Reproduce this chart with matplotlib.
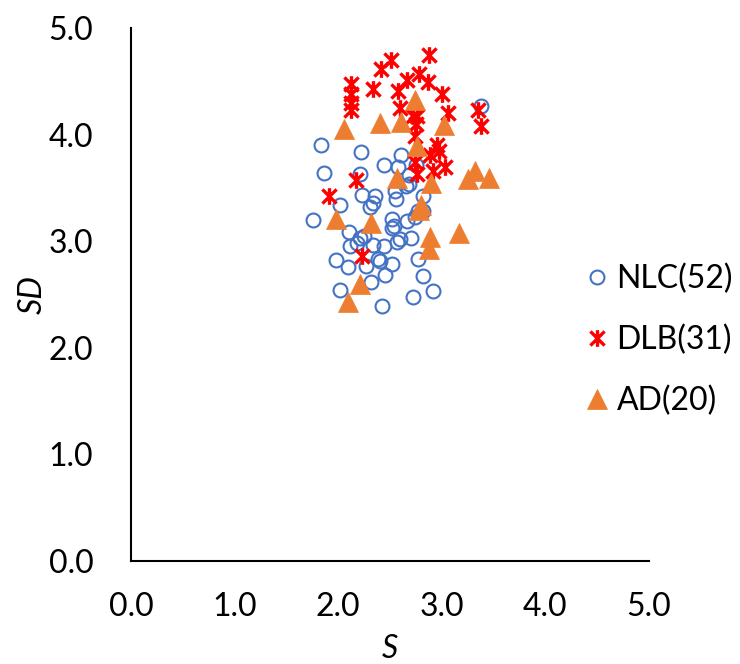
import matplotlib
matplotlib.use("Agg")
import matplotlib.pyplot as plt
from matplotlib.path import Path

plt.rcParams['font.family'] = ['Lato', 'DejaVu Sans']

# NLC group
nlc_s = [1.83, 1.86, 1.76, 2.02, 2.22, 2.21, 2.23, 2.36, 2.34, 2.31,
         2.44, 2.61, 2.58, 2.55, 2.56, 2.68, 2.68, 2.65, 2.75, 2.82,
         2.66, 2.74, 2.52, 2.52, 2.54, 2.70, 2.60, 2.57, 2.44, 2.34,
         2.21, 2.18, 2.10, 2.11, 1.98, 2.09, 2.27, 2.38, 2.40, 2.52,
         2.45, 2.32, 2.02, 2.42, 2.72, 2.92, 2.82, 2.77, 3.38, 2.77,
         2.82, 2.25]
nlc_sd = [3.90, 3.64, 3.20, 3.34, 3.84, 3.63, 3.43, 3.42, 3.36, 3.32,
          3.71, 3.81, 3.70, 3.47, 3.40, 3.62, 3.54, 3.52, 3.71, 3.42,
          3.19, 3.23, 3.21, 3.12, 3.14, 3.03, 3.02, 2.99, 2.95, 2.96,
          3.03, 2.98, 3.09, 2.95, 2.82, 2.76, 2.77, 2.83, 2.81, 2.79,
          2.68, 2.62, 2.54, 2.39, 2.48, 2.53, 2.67, 2.83, 4.27, 3.28,
          3.28, 3.05]

# DLB group
dlb_s = [2.88, 2.51, 2.41, 2.78, 2.66, 2.87, 2.12, 2.34, 2.58, 2.12,
         3.00, 2.12, 2.60, 2.12, 3.35, 3.06, 2.72, 2.76, 2.75, 3.38,
         2.74, 2.95, 2.97, 2.89, 2.74, 3.03, 2.92, 2.76, 2.17, 1.91,
         2.23]
dlb_sd = [4.75, 4.70, 4.61, 4.57, 4.51, 4.49, 4.47, 4.43, 4.41, 4.38,
          4.38, 4.30, 4.25, 4.23, 4.23, 4.20, 4.17, 4.17, 4.10, 4.08,
          3.99, 3.90, 3.85, 3.81, 3.74, 3.70, 3.66, 3.63, 3.57, 3.42,
          2.86]

# AD group
ad_s = [2.74, 2.06, 2.40, 2.61, 3.02, 2.76, 2.57, 2.90, 3.32, 3.25,
        3.46, 2.80, 2.78, 1.98, 2.32, 3.17, 2.89, 2.88, 2.21, 2.09]
ad_sd = [4.32, 4.05, 4.11, 4.12, 4.09, 3.89, 3.59, 3.55, 3.66, 3.58,
         3.59, 3.34, 3.29, 3.21, 3.17, 3.08, 3.04, 2.93, 2.60, 2.43]

labels = ["NLC(52)", "DLB(31)", "AD(20)"]
ticks = [0.0, 1.0, 2.0, 3.0, 4.0, 5.0]

# asterisk marker: an "x" crossed with a vertical bar
star = Path([(-0.85, -0.85), (0.85, 0.85), (-0.85, 0.85), (0.85, -0.85),
             (0, -1), (0, 1)],
            [Path.MOVETO, Path.LINETO, Path.MOVETO, Path.LINETO,
             Path.MOVETO, Path.LINETO])

FS = 23

fig = plt.figure(figsize=(7.4, 6.64), dpi=100)
ax = fig.add_axes([0.177, 0.155, 0.700, 0.803])

ax.plot(nlc_s, nlc_sd, ls='none', marker='o', ms=10, mfc='none',
        mec='#4472C4', mew=1.5, label=labels[0])
ax.plot(dlb_s, dlb_sd, ls='none', marker=star, ms=12, mfc='none',
        mec='#FF0000', mew=2.4, label=labels[1])
ax.plot(ad_s, ad_sd, ls='none', marker='^', ms=15, mfc='#ED7D31',
        mec='#ED7D31', mew=0.5, label=labels[2])

ax.set_xlim(0, 5)
ax.set_ylim(0, 5)
ax.set_xticks(ticks)
ax.set_yticks(ticks)
ax.set_xticklabels([f"{t:.1f}" for t in ticks])
ax.set_yticklabels([f"{t:.1f}" for t in ticks])
ax.tick_params(length=0, labelsize=FS)
ax.tick_params(axis='x', pad=22)
ax.tick_params(axis='y', pad=27)
for side in ('top', 'right'):
    ax.spines[side].set_visible(False)
for side in ('left', 'bottom'):
    ax.spines[side].set_linewidth(1.5)
    ax.spines[side].set_color('black')

ax.set_xlabel("S", fontsize=FS, style='italic', labelpad=9)
ax.set_ylabel("SD", fontsize=FS, style='italic', labelpad=1)

ax.legend(loc='center left', bbox_to_anchor=(0.845, 0.415), frameon=False,
          fontsize=FS, handletextpad=0.1, labelspacing=0.95,
          handlelength=1.0, borderaxespad=0)

fig.savefig("out.png", dpi=100)
